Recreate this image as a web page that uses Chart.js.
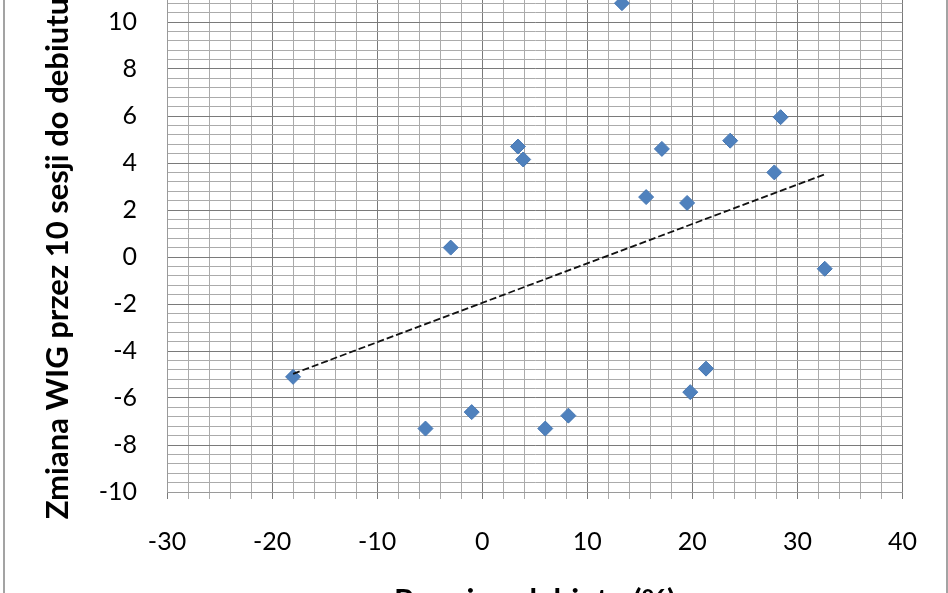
<!DOCTYPE html>
<html>
<head>
<meta charset="utf-8">
<script src="https://cdn.jsdelivr.net/npm/chart.js@4.4.1/dist/chart.umd.min.js"></script>
<style>
  html, body { margin: 0; padding: 0; background: #fff; overflow: hidden; width: 948px; height: 593px; }
  #frame { position: absolute; left: 3px; top: -20px; width: 941px; height: 700px; border: 2px solid #a3a3a3; }
  #chart { position: absolute; left: 0; top: -70px; }
</style>
</head>
<body>
<div id="frame"></div>
<canvas id="chart" width="948" height="710"></canvas>
<script>
// debut return (x) vs WIG change over 10 sessions before debut (y)
const debutReturn = [-18.0, -5.4, -1.0, -3.0, 3.4, 3.9, 6.0, 8.2, 13.3, 15.6, 17.1, 19.5, 19.8, 21.3, 23.6, 27.8, 28.4, 32.6];
const wigChange   = [-5.1, -7.3, -6.6, 0.4, 4.7, 4.15, -7.3, -6.75, 10.8, 2.55, 4.6, 2.3, -5.75, -4.75, 4.95, 3.6, 5.95, -0.5];

// linear trendline ends
const trendX = [-18.0, 32.6];
const trendY = [-4.97, 3.52];

const xLabels = [-30, -20, -10, 0, 10, 20, 30, 40];
const yLabels = [-10, -8, -6, -4, -2, 0, 2, 4, 6, 8, 10, 12];

const xTitle = 'Premia z debiutu (%)';
const yTitle = 'Zmiana WIG przez 10 sesji do debiutu (%)';

function isLabel(list, v) {
    return list.some(l => Math.abs(l - v) < 1e-6);
}

const points = debutReturn.map((x, i) => ({x: x, y: wigChange[i]}));
const trend = trendX.map((x, i) => ({x: x, y: trendY[i]}));

const ctx = document.getElementById('chart');
new Chart(ctx, {
    type: 'scatter',
    data: {
        datasets: [{
            data: trend,
            showLine: true,
            borderColor: '#111',
            borderWidth: 1.8,
            borderDash: [7, 3],
            pointRadius: 0,
            order: 0
        }, {
            data: points,
            pointStyle: 'rectRot',
            pointRadius: 7.5,
            backgroundColor: '#4f81bd',
            borderColor: '#4677b3',
            borderWidth: 1,
            order: 1
        }]
    },
    options: {
        responsive: false,
        devicePixelRatio: 1,
        animation: false,
        layout: {padding: {left: 0, right: 45.5, top: 15, bottom: 0}},
        plugins: {legend: {display: false}, tooltip: {enabled: false}},
        scales: {
            x: {
                type: 'linear',
                min: -30,
                max: 40,
                afterFit: function (s) { s.height = 148; },
                ticks: {
                    stepSize: 2,
                    autoSkip: false,
                    maxRotation: 0,
                    minRotation: 0,
                    padding: 28,
                    color: '#000',
                    font: {family: 'Lato', size: 25},
                    callback: v => isLabel(xLabels, v) ? v : ''
                },
                grid: {
                    color: c => isLabel(xLabels, c.tick.value) ? '#7a7a7a' : '#ababab',
                    lineWidth: 1,
                    drawTicks: true,
                    tickLength: 7
                },
                border: {display: true, color: '#9a9a9a'},
                title: {
                    display: true,
                    text: xTitle,
                    color: '#000',
                    font: {family: 'Lato', size: 31, weight: 'bold'},
                    padding: {top: 0, bottom: 20}
                }
            },
            y: {
                type: 'linear',
                min: -10,
                max: 12,
                afterFit: function (s) { s.width = 167; },
                ticks: {
                    stepSize: 0.4,
                    autoSkip: false,
                    padding: 30,
                    color: '#000',
                    font: {family: 'Lato', size: 25},
                    callback: v => isLabel(yLabels, v) ? Math.round(v) : ''
                },
                grid: {
                    color: c => isLabel(yLabels, c.tick.value) ? '#7a7a7a' : '#ababab',
                    lineWidth: 1,
                    drawTicks: false
                },
                border: {display: true, color: '#9a9a9a'},
                title: {
                    display: true,
                    text: yTitle,
                    color: '#000',
                    font: {family: 'Lato', size: 31, weight: 'bold'},
                    padding: {top: 39, bottom: 0}
                }
            }
        }
    }
});
</script>
</body>
</html>
